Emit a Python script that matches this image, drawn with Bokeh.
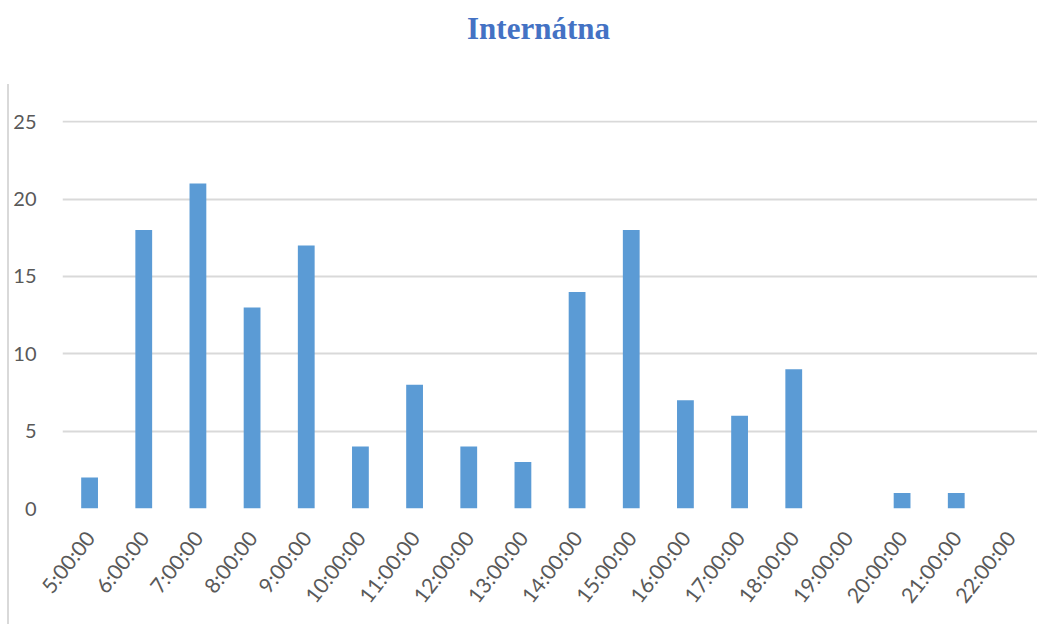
import math
from bokeh.plotting import figure
from bokeh.models import FactorRange, Range1d, FixedTicker, Div
from bokeh.layouts import column
from bokeh.embed import file_html
from bokeh.resources import INLINE

hours = ["5:00:00", "6:00:00", "7:00:00", "8:00:00", "9:00:00", "10:00:00",
         "11:00:00", "12:00:00", "13:00:00", "14:00:00", "15:00:00", "16:00:00",
         "17:00:00", "18:00:00", "19:00:00", "20:00:00", "21:00:00", "22:00:00"]
counts = [2, 18, 21, 13, 17, 4, 8, 4, 3, 14, 18, 7, 6, 9, 0, 1, 1, 0]
y_ticks = [0, 5, 10, 15, 20, 25]

title = Div(text="Internátna", width=1037, height=74,
            styles={"font-family": "Liberation Serif", "font-weight": "bold",
                    "font-size": "31px", "color": "#4472C4",
                    "text-align": "center", "padding-top": "7px",
                    "padding-left": "30px", "box-sizing": "border-box",
                    "line-height": "1.1"})

p = figure(frame_width=975, frame_height=388, output_backend="svg",
           toolbar_location=None,
           x_range=FactorRange(factors=hours, range_padding=0),
           y_range=Range1d(0, 25.08),
           min_border_left=62, min_border_right=0, min_border_top=36,
           min_border_bottom=118)
p.border_fill_color = None
p.styles = {"background-image": "linear-gradient(#D9D9D9, #D9D9D9)",
            "background-size": "2px 100%", "background-position": "7px 0",
            "background-repeat": "no-repeat"}

p.vbar(x=hours, top=counts, width=0.31, fill_color="#5B9BD5", line_color=None)

p.outline_line_color = None
p.xgrid.grid_line_color = None
p.ygrid.grid_line_color = "#D9D9D9"
p.ygrid.grid_line_width = 2
p.yaxis.ticker = FixedTicker(ticks=y_ticks)

for ax in (p.xaxis, p.yaxis):
    ax.axis_line_color = None
    ax.major_tick_line_color = None
    ax.minor_tick_line_color = None
    ax.major_label_text_color = "#595959"
    ax.major_label_text_font = "Lato"

p.yaxis.major_label_text_font_size = "20px"
p.xaxis.major_label_text_font_size = "21px"
p.yaxis.major_label_standoff = 20
p.xaxis.major_label_orientation = math.radians(52)
p.xaxis.major_label_standoff = 19

layout = column(title, p, spacing=0)
open("out.html", "w").write(file_html(layout, INLINE))
